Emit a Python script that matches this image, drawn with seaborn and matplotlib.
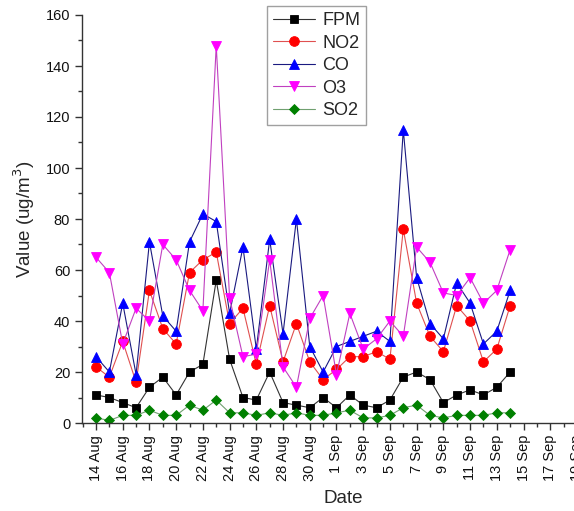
import numpy as np
import pandas as pd
import matplotlib
matplotlib.use("Agg")
import matplotlib.pyplot as plt
import matplotlib.dates as mdates
from matplotlib.ticker import MultipleLocator, FixedLocator, FuncFormatter
import seaborn as sns

# ---- data ----
dates = pd.date_range("2019-08-14", "2019-09-14", freq="D")
FPM = [11, 10, 8, 6, 14, 18, 11, 20, 23, 56, 25, 10, 9, 20, 8, 7, 6, 10, 6, 11, 7, 6, 9, 18, 20, 17, 8, 11, 13, 11, 14, 20]
NO2 = [22, 18, 32, 16, 52, 37, 31, 59, 64, 67, 39, 45, 23, 46, 24, 39, 24, 17, 21, 26, 26, 28, 25, 76, 47, 34, 28, 46, 40, 24, 29, 46]
CO = [26, 20, 47, 19, 71, 42, 36, 71, 82, 79, 43, 69, 29, 72, 35, 80, 30, 20, 30, 32, 34, 36, 32, 115, 57, 39, 33, 55, 47, 31, 36, 52]
O3 = [65, 59, 31, 45, 40, 70, 64, 52, 44, 148, 49, 26, 27, 64, 22, 14, 41, 50, 19, 43, 29, 33, 40, 34, 69, 63, 51, 50, 57, 47, 52, 68]
SO2 = [2, 1, 3, 3, 5, 3, 3, 7, 5, 9, 4, 4, 3, 4, 3, 4, 3, 3, 4, 5, 2, 2, 3, 6, 7, 3, 2, 3, 3, 3, 4, 4]
series_names = ["FPM", "NO2", "CO", "O3", "SO2"]
series_vals = [FPM, NO2, CO, O3, SO2]
tick_dates = pd.date_range("2019-08-14", "2019-09-21", freq="2D")

colors = {"FPM": "#000000", "NO2": "#ff0000", "CO": "#0000ff", "O3": "#ff00ff", "SO2": "#008000"}
line_colors = {"FPM": "#333333", "NO2": "#e05050", "CO": "#1a1a80", "O3": "#c040c0", "SO2": "#70a070"}
markers = {"FPM": "s", "NO2": "o", "CO": "^", "O3": "v", "SO2": "D"}
msizes = {"FPM": 6, "NO2": 7, "CO": 7.5, "O3": 7.5, "SO2": 5.5}

sns.set_style("ticks")
plt.rcParams["font.family"] = ["Liberation Sans", "DejaVu Sans"]

fig = plt.figure(figsize=(5.74, 5.11), dpi=100)
W, H = 574, 511
# axes geometry in pixels
x0_px, day_px = 96.0, 13.36
left_px = 82.0
xmin_days = -(x0_px - left_px) / day_px
xmax_days = 38.0
width_px = (xmax_days - xmin_days) * day_px
ax = fig.add_axes([left_px / W, (H - 423) / H, width_px / W, 408 / H])

for name, vals in zip(series_names, series_vals):
    df = pd.DataFrame({"Date": dates, "Value": vals})
    sns.lineplot(data=df, x="Date", y="Value", ax=ax, color=line_colors[name],
                 lw=0.8, marker=markers[name], markersize=msizes[name],
                 markerfacecolor=colors[name], markeredgecolor=colors[name],
                 markeredgewidth=0.6, label=name)

start = mdates.date2num(dates[0])
ax.set_xlim(start + xmin_days, start + xmax_days)
ax.set_ylim(0, 160)
ax.xaxis.set_major_locator(FixedLocator(mdates.date2num(tick_dates)))
ax.xaxis.set_major_formatter(FuncFormatter(
    lambda v, p: f"{mdates.num2date(v).day} {mdates.num2date(v).strftime('%b')}"))
ax.xaxis.set_minor_locator(MultipleLocator(1))
ax.yaxis.set_major_locator(MultipleLocator(20))
ax.yaxis.set_minor_locator(MultipleLocator(10))

for s in ["top", "right"]:
    ax.spines[s].set_visible(False)
for s in ["left", "bottom"]:
    ax.spines[s].set_color("#333333")
    ax.spines[s].set_linewidth(1.0)

ax.tick_params(axis="both", which="major", length=5, width=1.0, color="#333333",
               labelsize=10.5, labelcolor="#111111")
ax.tick_params(axis="both", which="minor", length=3, width=1.0, color="#333333")
ax.tick_params(axis="x", which="major", labelrotation=90)

ax.set_xlabel("Date", fontsize=13.5, labelpad=6)
ax.set_ylabel("Value (ug/m$^3$)", fontsize=13.5, labelpad=6)

leg = ax.legend(loc="upper left", bbox_to_anchor=(267 / W, 1 - 6 / H),
                bbox_transform=fig.transFigure, fontsize=13, frameon=True,
                fancybox=False, edgecolor="#888888", handlelength=2.3,
                handletextpad=0.4, labelspacing=0.3, borderpad=0.35,
                borderaxespad=0)
leg.get_frame().set_linewidth(1.0)

fig.savefig("out.png", dpi=100)
